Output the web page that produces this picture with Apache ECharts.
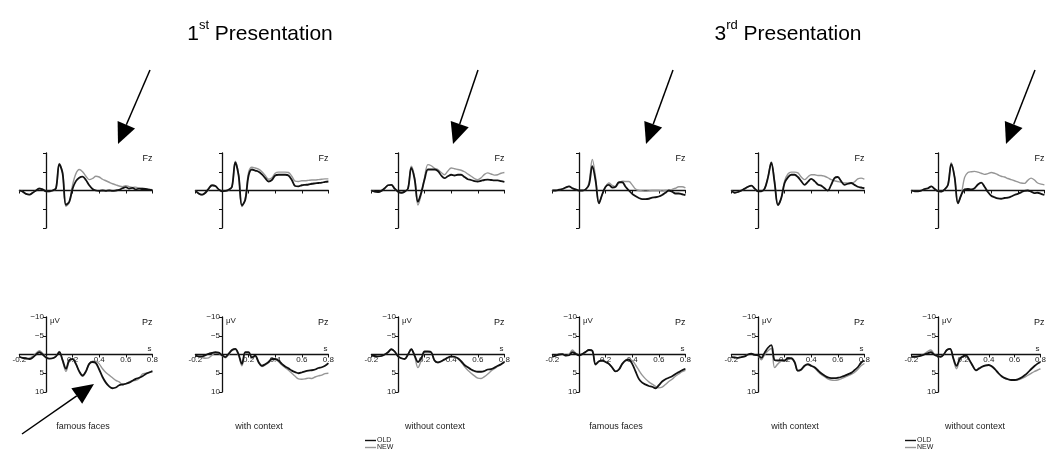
<!DOCTYPE html>
<html>
<head>
<meta charset="utf-8">
<script src="https://cdn.jsdelivr.net/npm/echarts@6/dist/echarts.min.js"></script>
<style>
  html, body { margin: 0; padding: 0; background: #fff; }
  #chart { width: 1049px; height: 456px; }
</style>
</head>
<body>
<div id="chart"></div>
<script>
// Sample times (s), 25 ms steps
const times = [-0.2, -0.175, -0.15, -0.125, -0.1, -0.075, -0.05, -0.025, 0, 0.025, 0.05, 0.075, 0.1, 0.125, 0.15, 0.175, 0.2, 0.225, 0.25, 0.275, 0.3, 0.325, 0.35, 0.375, 0.4, 0.425, 0.45, 0.475, 0.5, 0.525, 0.55, 0.575, 0.6, 0.625, 0.65, 0.675, 0.7, 0.725, 0.75, 0.775, 0.8];

// Conditions (columns); first three = 1st presentation, last three = 3rd presentation
const conditions = ['famous faces', 'with context', 'without context', 'famous faces', 'with context', 'without context'];
const presentations = ['1', '3'];
const presentationSuffix = ['st', 'rd'];

// Grand-average amplitudes (µV), Fz
const fz1Old = [0, 0.3, 0.9, 1.1, 0.6, 0, -0.5, -0.3, 0.2, 0.2, 0, -0.6, -7.0, -4.5, 3.8, 3.0, -0.5, -2.5, -3.4, -3.7, -2.8, -1.4, -0.4, 0, 0.1, 0, 0.1, 0, 0.1, 0, -0.2, -0.6, -0.9, -0.5, -0.7, -0.3, -0.5, -0.4, -0.4, -0.2, -0.1];
const fz1New = [0, 0.3, 0.9, 1.1, 0.6, 0, -0.6, -0.3, 0.2, 0.3, 0, -0.5, -7.2, -4.8, 4.2, 3.2, -1.5, -4.5, -5.6, -5.0, -3.8, -2.9, -3.2, -3.8, -3.6, -3.0, -2.6, -2.2, -1.8, -1.5, -1.2, -1.0, -1.3, -1.0, -0.8, -0.9, -0.6, -0.7, -0.4, -0.3, -0.2];
const fz2Old = [0, 0.8, 1.1, 0.6, -0.5, -1.4, -1.2, -0.3, 0.2, 0.1, -0.2, -1.0, -7.5, -4.0, 4.0, 2.5, -4.0, -5.6, -5.3, -5.0, -4.3, -3.3, -2.4, -2.8, -4.0, -4.2, -4.2, -4.2, -4.0, -2.8, -1.2, -1.1, -1.4, -1.5, -1.6, -1.8, -1.9, -2.0, -2.1, -2.3, -2.4];
const fz2New = [0, 0.9, 1.2, 0.7, -0.4, -1.3, -1.2, -0.3, 0.2, 0.2, -0.1, -0.9, -7.8, -4.2, 4.3, 2.0, -4.8, -6.2, -6.0, -5.7, -5.0, -4.0, -3.0, -3.4, -4.6, -4.9, -4.9, -4.9, -4.8, -3.8, -2.5, -2.4, -2.6, -2.6, -2.7, -2.8, -2.8, -2.9, -3.0, -3.1, -3.1];
const fz3Old = [0, 0.3, 0.4, 0.1, -0.6, -1.4, -1.5, -0.5, 0.3, 0.6, 0.3, -0.5, -6.0, -3.0, 3.0, 0.5, -3.0, -5.6, -5.6, -5.6, -5.2, -4.0, -3.3, -3.8, -4.2, -4.0, -4.2, -4.2, -3.6, -3.0, -2.8, -2.5, -2.4, -2.6, -2.8, -2.9, -2.8, -2.7, -2.7, -2.5, -2.3];
const fz3New = [0, 0.3, 0.4, 0.1, -0.6, -1.4, -1.5, -0.5, 0.3, 0.6, 0.3, -0.5, -6.5, -3.5, 3.9, 1.0, -3.5, -6.9, -6.6, -5.9, -5.6, -4.8, -4.2, -5.2, -6.0, -5.8, -5.6, -5.4, -5.0, -4.4, -3.8, -3.2, -2.9, -3.4, -4.3, -4.7, -4.4, -4.1, -4.2, -4.6, -4.8];
const fz4Old = [0, 0, -0.2, -0.4, -0.8, -1.1, -0.6, -0.3, 0, 0, -0.3, -1.5, -6.5, -2.5, 3.4, 1.0, -1.0, -1.5, -0.8, -1.0, -2.2, -2.2, -1.0, 0, 0.9, 1.5, 2.0, 2.3, 2.3, 2.2, 1.9, 1.8, 1.6, 1.2, 0.6, 0, 0.3, 0.8, 0.8, 1.0, 1.2];
const fz4New = [0, 0, -0.2, -0.4, -0.8, -1.1, -0.6, -0.3, 0, 0, -0.3, -2.0, -8.3, -3.5, 3.4, 1.0, -1.0, -2.0, -1.4, -1.0, -2.0, -2.5, -2.4, -2.4, -1.5, -0.4, 0, 0.1, 0.2, 0.1, 0, 0, 0, 0.1, 0, 0, -0.3, -0.6, -1.0, -1.0, -0.7];
const fz5Old = [0, 0.6, 0.4, 0, -0.5, -1.0, -1.3, -0.5, 0.2, 0.2, -0.5, -3.5, -7.4, -2.0, 3.9, 2.0, -2.0, -3.5, -4.2, -4.2, -3.6, -2.5, -1.5, -2.3, -3.1, -2.5, -1.6, -1.3, -0.6, 0, -1.5, -3.3, -3.6, -2.5, -1.5, -1.8, -2.0, -1.5, -1.0, -0.8, -0.6];
const fz5New = [0, 0.6, 0.4, 0, -0.5, -1.0, -1.3, -0.5, 0.2, 0.2, -0.5, -3.5, -7.6, -2.5, 3.9, 2.0, -2.5, -4.4, -4.9, -4.9, -4.7, -3.6, -2.9, -3.6, -4.2, -4.2, -4.0, -4.0, -3.8, -3.4, -2.9, -2.6, -2.4, -2.2, -2.0, -2.0, -1.9, -2.3, -3.1, -3.3, -3.0];
const fz6Old = [0, 0.2, 0.2, 0, -0.4, -0.6, -1.1, -0.4, 0.2, 0.3, -0.3, -1.5, -7.0, -3.5, 3.4, 1.2, -0.3, -0.4, -0.3, -0.6, -1.6, -2.1, -1.0, 0.4, 1.4, 1.8, 2.1, 2.2, 2.0, 1.9, 1.6, 1.2, 0.9, 0.5, 0.1, 0, 0.3, 0.7, 0.6, 0.9, 1.2];
const fz6New = [0, 0.2, 0.2, 0, -0.4, -0.6, -1.1, -0.4, 0.2, 0.3, -0.3, -1.5, -7.4, -3.5, 3.4, 1.0, -3.5, -4.8, -5.0, -5.1, -4.9, -4.6, -4.3, -4.5, -4.8, -4.6, -4.2, -3.8, -3.6, -3.2, -2.9, -2.6, -2.3, -2.0, -1.9, -2.7, -3.3, -2.8, -2.0, -1.7, -1.5];

// Grand-average amplitudes (µV), Pz
const pz1Old = [0.6, 0.9, 1.0, 1.2, 0.8, 0, -0.6, 0, 0.8, 1.1, 1.0, 0.5, -0.6, 1.5, 3.8, 1.5, 1.2, 2.5, 4.5, 5.6, 4.5, 2.5, 2.0, 2.3, 4.0, 6.0, 7.5, 8.5, 9.0, 8.8, 8.2, 8.0, 7.8, 7.5, 7.0, 6.5, 6.2, 5.8, 5.2, 4.8, 4.5];
const pz1New = [0.6, 1.0, 1.2, 1.0, 0.5, -0.3, -1.0, -0.3, 0.7, 1.1, 1.0, 0.5, -0.8, 1.8, 4.5, 1.8, 1.3, 2.6, 4.6, 5.8, 4.6, 2.4, 1.8, 1.8, 2.5, 3.8, 4.8, 5.5, 6.2, 6.9, 7.3, 8.0, 7.8, 7.3, 7.0, 6.9, 6.4, 5.2, 5.0, 4.8, 4.3];
const pz2Old = [0.3, 0.5, 0.5, 0.2, -0.2, -0.4, -0.6, -0.5, 0.2, 0.7, -0.2, -1.2, -1.5, 0, 2.5, -0.6, -0.6, 0.8, 0.3, 2.0, 3.0, 2.6, 2.0, 1.2, 1.2, 1.6, 2.5, 3.2, 3.7, 4.3, 4.7, 5.0, 4.8, 4.5, 4.3, 4.2, 4.0, 3.6, 3.4, 3.0, 2.3];
const pz2New = [0.3, 0.5, 0.8, 1.0, 0.9, 0.2, -0.4, -0.3, 0.3, 0.9, 0, -1.0, -1.3, 0.3, 3.0, -0.4, -0.5, 0.9, 0.5, 2.2, 3.2, 2.8, 2.2, 1.4, 1.4, 1.9, 2.8, 3.5, 4.2, 5.0, 5.8, 6.5, 6.6, 6.5, 6.3, 6.4, 6.0, 5.7, 5.5, 5.1, 5.0];
const pz3Old = [0.3, 0.4, 0.5, 0.4, 0, -0.6, -1.4, -0.8, 0.5, 1.0, 1.2, 0, -1.4, 0.3, 2.0, 1.0, -0.8, -0.8, -0.6, 1.6, 2.1, 1.8, 1.3, 0.8, 0.5, 0.6, 1.0, 1.8, 2.8, 3.4, 4.0, 4.4, 4.6, 4.6, 4.4, 4.0, 3.9, 3.5, 3.0, 2.6, 2.0];
const pz3New = [0.3, 0.4, 0.5, 0.4, 0, -0.6, -1.4, -0.8, 0.5, 1.0, 1.2, 0, -1.4, 0.5, 3.5, 1.5, -0.6, -0.7, -0.5, 1.7, 2.2, 1.9, 1.4, 0.9, 0.6, 0.7, 1.1, 2.0, 3.2, 4.2, 5.0, 5.7, 6.3, 6.4, 5.9, 5.2, 4.4, 3.8, 3.2, 2.7, 2.0];
const pz4Old = [0.6, 0.3, 0, -0.1, 0.3, 0.2, -0.6, -0.2, 0.2, -0.1, -0.7, -1.2, -1.0, 2.6, 1.8, 1.6, 2.0, 2.5, 3.5, 4.5, 4.0, 2.5, 1.6, 1.4, 2.5, 4.5, 6.5, 7.5, 8.0, 8.4, 8.6, 9.0, 8.2, 7.2, 6.6, 6.2, 5.8, 5.2, 4.7, 4.2, 3.8];
const pz4New = [0.6, 0.3, 0, -0.1, 0.3, 0.0, -1.2, -0.4, 0.2, -0.1, -0.7, -1.2, -1.0, 2.8, 1.9, 1.6, 2.0, 2.5, 3.5, 4.5, 4.0, 2.5, 1.5, 1.2, 1.6, 2.8, 4.2, 5.5, 6.5, 7.3, 7.9, 8.5, 8.9, 8.7, 8.0, 7.2, 6.6, 5.8, 5.2, 4.6, 4.2];
const pz5Old = [0.7, 0.8, 0.9, 0.7, 0.5, 0, -0.2, 0.1, 0.2, 0.9, -0.5, -1.8, -2.5, 1.5, 1.6, 1.5, 1.6, 1.0, 1.0, 2.0, 4.3, 4.0, 3.0, 2.6, 3.0, 3.4, 4.2, 5.0, 5.6, 6.1, 6.3, 6.3, 6.2, 6.0, 5.7, 5.3, 4.9, 4.2, 3.4, 2.2, 1.6];
const pz5New = [0.7, 0.8, 0.9, 0.7, 0.5, 0, -0.2, 0.1, 0.3, 1.4, 0, -1.0, -1.6, 3.5, 2.5, 1.8, 1.8, 1.2, 1.1, 2.1, 4.4, 4.1, 3.1, 2.7, 3.1, 3.6, 4.5, 5.3, 5.9, 6.5, 6.8, 6.9, 6.8, 6.5, 6.1, 5.7, 5.3, 4.8, 4.0, 3.0, 2.4];
const pz6Old = [0.6, 0.6, 0.5, 0.3, 0, -0.3, -0.6, 0, 0.4, 0.6, 0, -1.2, -1.5, 1.0, 3.0, 1.2, 0.5, 0.3, 1.5, 3.0, 4.2, 3.7, 3.2, 2.9, 2.8, 3.2, 4.0, 5.0, 5.8, 6.3, 6.6, 6.8, 6.8, 6.6, 6.2, 5.6, 4.9, 4.0, 3.2, 2.5, 2.0];
const pz6New = [0.6, 0.6, 0.5, 0.3, -0.2, -0.8, -1.2, -0.2, 0.4, 0.6, 0, -1.2, -1.5, 1.3, 3.8, 1.4, 0.6, 0.4, 1.6, 3.1, 4.3, 3.8, 3.3, 3.0, 2.9, 3.3, 4.1, 5.1, 5.9, 6.4, 6.7, 6.9, 6.9, 6.8, 6.5, 6.1, 5.6, 5.1, 4.6, 4.2, 3.8];

// Axis ticks and their labels
const xTickValues = [-0.2, 0, 0.2, 0.4, 0.6, 0.8];
const xTickLabels = ['-0.2', '', '0.2', '0.4', '0.6', '0.8'];
const yTickValues = [-10, -5, 0, 5, 10];
const yTickLabels = ['\u221210', '\u22125', '', '5', '10'];

// Layout
const colZeroX = [46, 222, 398, 579, 758, 938];   // x pixel of t = 0 in each column
const secWidth = 133;                              // pixels per second
const rowTop = { Fz: 153, Pz: 317 };
const rowHeight = 75;
const FONT = "'Liberation Sans', Arial, sans-serif";
const OLD_COLOR = '#111111';
const NEW_COLOR = '#969696';

const panels = [
  { site: 'Fz', col: 0, old: fz1Old, nw: fz1New }, { site: 'Fz', col: 1, old: fz2Old, nw: fz2New },
  { site: 'Fz', col: 2, old: fz3Old, nw: fz3New }, { site: 'Fz', col: 3, old: fz4Old, nw: fz4New },
  { site: 'Fz', col: 4, old: fz5Old, nw: fz5New }, { site: 'Fz', col: 5, old: fz6Old, nw: fz6New },
  { site: 'Pz', col: 0, old: pz1Old, nw: pz1New }, { site: 'Pz', col: 1, old: pz2Old, nw: pz2New },
  { site: 'Pz', col: 2, old: pz3Old, nw: pz3New }, { site: 'Pz', col: 3, old: pz4Old, nw: pz4New },
  { site: 'Pz', col: 4, old: pz5Old, nw: pz5New }, { site: 'Pz', col: 5, old: pz6Old, nw: pz6New }
];

function tickLabel(values, labels, v) {
  const i = values.findIndex(t => Math.abs(t - v) < 1e-6);
  return i < 0 ? '' : labels[i];
}

const grids = [], xAxes = [], yAxes = [], series = [], graphics = [];

panels.forEach((p, k) => {
  const left = colZeroX[p.col] - 0.2 * secWidth;
  const top = rowTop[p.site];
  const isPz = p.site === 'Pz';
  grids.push({ left: left, top: top, width: secWidth, height: rowHeight });

  // time axis drawn along the 0 µV line (moved up from the grid bottom)
  xAxes.push({
    type: 'value', gridIndex: k, min: -0.2, max: 0.8, interval: 0.2,
    position: 'bottom', offset: -rowHeight / 2,
    axisLine: { onZero: false, lineStyle: { color: '#111', width: 1.3 } },
    axisTick: { show: true, length: 3, lineStyle: { color: '#111', width: 1 } },
    splitLine: { show: false },
    axisLabel: {
      show: isPz, fontSize: 8, fontFamily: FONT, color: '#222', margin: 1,
      formatter: v => tickLabel(xTickValues, xTickLabels, v)
    },
    name: isPz ? 's' : '', nameLocation: 'end', nameGap: -3,
    nameTextStyle: { fontSize: 8, fontFamily: FONT, color: '#222', align: 'center', verticalAlign: 'bottom', padding: [0, 0, 2, 0] }
  });

  // amplitude axis drawn at t = 0 (moved right from the grid's left edge), negative up
  yAxes.push({
    type: 'value', gridIndex: k, min: -10, max: 10, interval: 5, inverse: true,
    position: 'left', offset: -0.2 * secWidth,
    axisLine: { onZero: false, lineStyle: { color: '#111', width: 1.3 } },
    axisTick: { show: true, length: 3, lineStyle: { color: '#111', width: 1 } },
    splitLine: { show: false },
    axisLabel: {
      show: isPz, fontSize: 8, fontFamily: FONT, color: '#222', margin: 2,
      formatter: v => tickLabel(yTickValues, yTickLabels, v)
    },
    name: isPz ? '\u03BCV' : '', nameLocation: 'start', nameGap: -4,
    nameTextStyle: { fontSize: 8, fontFamily: FONT, color: '#222', align: 'left', verticalAlign: 'middle', padding: [0, 0, 0, 4] }
  });

  series.push({
    type: 'line', name: 'NEW', xAxisIndex: k, yAxisIndex: k,
    data: times.map((t, i) => [t, p.nw[i]]),
    showSymbol: false, smooth: 0.35, color: NEW_COLOR,
    lineStyle: { color: NEW_COLOR, width: 1.4 }, z: 2
  });
  series.push({
    type: 'line', name: 'OLD', xAxisIndex: k, yAxisIndex: k,
    data: times.map((t, i) => [t, p.old[i]]),
    showSymbol: false, smooth: 0.35, color: OLD_COLOR,
    lineStyle: { color: OLD_COLOR, width: 1.8 }, z: 3
  });

  // electrode site label in the upper right corner of each panel
  graphics.push({
    type: 'text', x: left + secWidth, y: top + 6,
    style: { text: p.site, font: '9px ' + FONT, fill: '#111', align: 'right', verticalAlign: 'middle' }
  });
  // condition label under the Pz panels
  if (isPz) {
    graphics.push({
      type: 'text', x: left + secWidth / 2 - 3, y: 427,
      style: { text: conditions[p.col], font: '9px ' + FONT, fill: '#222', align: 'center', verticalAlign: 'middle' }
    });
  }
});

// Presentation headings
const headingX = [260, 788];
presentations.forEach((n, i) => {
  graphics.push({
    type: 'text', x: headingX[i], y: 32,
    style: {
      text: '{n|' + n + '}{s|' + presentationSuffix[i] + '}{n| Presentation}',
      align: 'center', verticalAlign: 'middle',
      rich: {
        n: { fontSize: 21, fontFamily: FONT, fill: '#000', lineHeight: 26, verticalAlign: 'bottom' },
        s: { fontSize: 13, fontFamily: FONT, fill: '#000', lineHeight: 26, verticalAlign: 'top' }
      }
    }
  });
});

// Pointer arrows: [tailX, tailY, tipX, tipY]
const arrows = [
  [150, 70, 118, 144],
  [478, 70, 453, 144],
  [673, 70, 646, 144],
  [1035, 70, 1006, 144],
  [22, 434, 94, 384]
];
const headLen = 21, headWidth = 19;
arrows.forEach(([x1, y1, x2, y2]) => {
  const dx = x2 - x1, dy = y2 - y1, len = Math.hypot(dx, dy);
  const ux = dx / len, uy = dy / len;
  const bx = x2 - ux * headLen, by = y2 - uy * headLen;
  const px = -uy * headWidth / 2, py = ux * headWidth / 2;
  graphics.push({ type: 'line', shape: { x1: x1, y1: y1, x2: bx, y2: by }, style: { stroke: '#000', lineWidth: 1.5 } });
  graphics.push({ type: 'polygon', shape: { points: [[x2, y2], [bx + px, by + py], [bx - px, by - py]] }, style: { fill: '#000' } });
});

// Legends under the "without context" columns
const legendCols = [2, 5];
const legends = legendCols.map(c => ({
  data: ['OLD', 'NEW'], orient: 'vertical',
  left: colZeroX[c] - 33, top: 437, padding: 0,
  icon: 'rect', itemWidth: 11, itemHeight: 1.4, itemGap: 0,
  selectedMode: false,
  textStyle: { fontSize: 7, fontFamily: FONT, color: '#222', padding: [0, 0, 0, -4] }
}));

const chart = echarts.init(document.getElementById('chart'));
chart.setOption({
  animation: false,
  backgroundColor: '#fff',
  grid: grids,
  xAxis: xAxes,
  yAxis: yAxes,
  legend: legends,
  series: series,
  graphic: graphics
});
</script>
</body>
</html>
